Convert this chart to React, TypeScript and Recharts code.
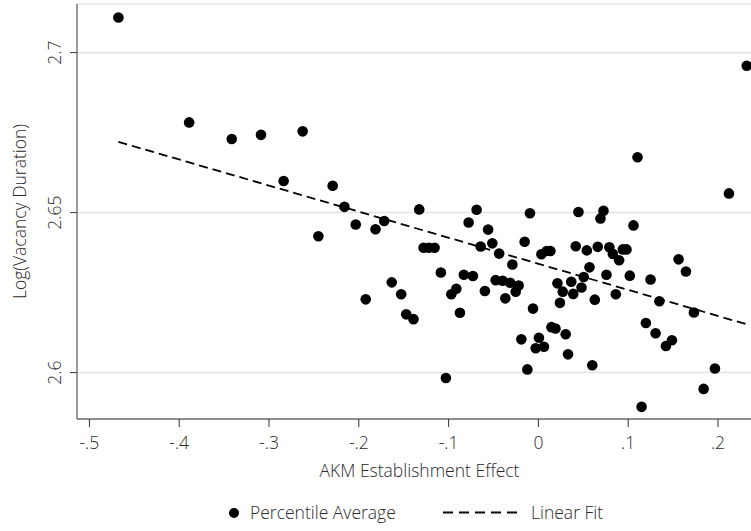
import React from 'react';
import { ScatterChart, Scatter, XAxis, YAxis, CartesianGrid } from 'recharts';

// establishment effect (x) and log vacancy duration (y) per percentile bin
const akmEffect = [
  -0.4677, -0.3889, -0.3415, -0.3089, -0.2625, -0.2837, -0.2291, -0.216, -0.245, -0.2034,
  -0.1814, -0.1717, -0.1327, -0.1279, -0.122, -0.1156, -0.1086, -0.1633, -0.1528, -0.1923,
  -0.1472, -0.1391, -0.103, -0.097, -0.0914, -0.0874, -0.083, -0.0729, -0.0777, -0.0688,
  -0.056, -0.0513, -0.0643, -0.0437, -0.0476, -0.0596, 0.1104, 0.2122, 0.232, -0.0094,
  0.0446, 0.0725, 0.0691, 0.1059, -0.0153, -0.029, 0.0033, 0.0093, 0.0134, 0.0416,
  0.0539, 0.0661, 0.079, 0.0829, 0.0899, 0.094, 0.0981, 0.0569, 0.0505, 0.0758,
  0.1018, 0.1249, 0.1561, 0.1643, 0.1347, 0.1732, -0.0398, -0.0314, -0.022, -0.0253,
  -0.0368, 0.0212, 0.0271, 0.0366, 0.0388, 0.048, 0.024, 0.0628, 0.0862, -0.006,
  0.0145, 0.019, 0.0304, -0.019, 0.0006, -0.003, 0.0062, 0.033, 0.06, -0.0123,
  0.1197, 0.1305, 0.142, 0.1487, 0.1966, 0.184, 0.1149,
];
const logVacancyDuration = [
  2.711, 2.6782, 2.673, 2.6743, 2.6754, 2.6599, 2.6584, 2.6518, 2.6426, 2.6463,
  2.6448, 2.6474, 2.651, 2.639, 2.639, 2.639, 2.6313, 2.6282, 2.6245, 2.6229,
  2.6182, 2.6167, 2.5983, 2.6245, 2.6262, 2.6187, 2.6306, 2.6302, 2.6469, 2.6509,
  2.6447, 2.6404, 2.6394, 2.6372, 2.6289, 2.6255, 2.6673, 2.656, 2.6959, 2.6498,
  2.6502, 2.6506, 2.6482, 2.646, 2.6409, 2.6338, 2.637, 2.638, 2.638, 2.6395,
  2.6382, 2.6393, 2.6392, 2.6371, 2.6351, 2.6385, 2.6385, 2.6329, 2.6299, 2.6306,
  2.6303, 2.6291, 2.6354, 2.6316, 2.6223, 2.6188, 2.6287, 2.6281, 2.6272, 2.6253,
  2.6232, 2.6279, 2.6253, 2.6284, 2.6246, 2.6266, 2.6218, 2.6228, 2.6245, 2.62,
  2.6142, 2.6138, 2.612, 2.6104, 2.6109, 2.6076, 2.6081, 2.6057, 2.6023, 2.601,
  2.6155, 2.6123, 2.6083, 2.6101, 2.6013, 2.5949, 2.5893,
];

// linear fit
const fitIntercept = 2.634;
const fitSlope = -0.0815;

const xTicks = [-0.5, -0.4, -0.3, -0.2, -0.1, 0, 0.1, 0.2];
const xTickLabels = ['-.5', '-.4', '-.3', '-.2', '-.1', '0', '.1', '.2'];
const yTicks = [2.6, 2.65, 2.7];
const yTickLabels = ['2.6', '2.65', '2.7'];

const points = akmEffect.map((x, i) => ({ x, y: logVacancyDuration[i] }));
const xMin = Math.min(...akmEffect);
const xMax = Math.max(...akmEffect);
const fitLine = [xMin, xMax].map((x) => ({ x, y: fitIntercept + fitSlope * x }));

const FONT = '"Open Sans", sans-serif';
const TEXT = '#2a2a2a';
const FS = 17.5;

const XTick = (props: any) => {
  const { x, y, payload } = props;
  const i = xTicks.indexOf(payload.value);
  return (
    <text x={x} y={y + 20} textAnchor="middle" fontFamily={FONT} fontWeight={300} fontSize={FS} fill={TEXT}>
      {xTickLabels[i]}
    </text>
  );
};

const YTick = (props: any) => {
  const { y, payload } = props;
  const i = yTicks.indexOf(payload.value);
  const bx = 61;
  return (
    <text x={bx} y={y} transform={`rotate(-90, ${bx}, ${y})`} textAnchor="middle" fontFamily={FONT} fontWeight={300} fontSize={FS} fill={TEXT}>
      {yTickLabels[i]}
    </text>
  );
};

const Dot = (props: any) => <circle cx={props.cx} cy={props.cy} r={5.3} fill="#000" />;

export default function App() {
  return (
    <div style={{ position: 'absolute', left: 0, top: 0, width: 751, height: 531, overflow: 'hidden', background: '#fff' }}>
      <ScatterChart width={770} height={531} margin={{ top: 4, right: 8, left: 0, bottom: 0 }}>
        <CartesianGrid horizontal vertical={false} stroke="#e4e4e4" strokeWidth={1.5} />
        <XAxis
          type="number"
          dataKey="x"
          domain={[-0.5138, 0.249]}
          ticks={xTicks}
          tick={<XTick />}
          tickSize={8}
          height={112}
          allowDataOverflow
          stroke="#333"
          tickLine={{ stroke: '#333' }}
          label={(p: any) => (
            <text x={p.viewBox.x + p.viewBox.width / 2} y={p.viewBox.y + 58} textAnchor="middle" fontFamily={FONT} fontWeight={300} fontSize={FS} fill={TEXT}>
              AKM Establishment Effect
            </text>
          )}
        />
        <YAxis
          type="number"
          dataKey="y"
          domain={[2.5855, 2.7152]}
          ticks={yTicks}
          tick={<YTick />}
          tickSize={7}
          width={77}
          allowDataOverflow
          stroke="#333"
          tickLine={{ stroke: '#333' }}
          label={(p: any) => {
            const cy = p.viewBox.y + p.viewBox.height / 2;
            return (
              <text x={26} y={cy} transform={`rotate(-90, 26, ${cy})`} textAnchor="middle" fontFamily={FONT} fontWeight={300} fontSize={FS} fill={TEXT}>
                Log(Vacancy Duration)
              </text>
            );
          }}
        />
        <Scatter data={points} shape={<Dot />} isAnimationActive={false} />
        <Scatter
          data={fitLine}
          line={{ stroke: '#000', strokeWidth: 1.8, strokeDasharray: '9 5' }}
          shape={() => null}
          isAnimationActive={false}
        />
      </ScatterChart>
      <svg width={751} height={40} style={{ position: 'absolute', left: 0, top: 494 }}>
        <circle cx={234} cy={19} r={5} fill="#000" />
        <text x={250} y={25} fontFamily={FONT} fontWeight={300} fontSize={FS} fill={TEXT}>Percentile Average</text>
        <line x1={443} y1={18.5} x2={518} y2={18.5} stroke="#000" strokeWidth={1.8} strokeDasharray="10 6" />
        <text x={531} y={25} fontFamily={FONT} fontWeight={300} fontSize={FS} fill={TEXT}>Linear Fit</text>
      </svg>
    </div>
  );
}
